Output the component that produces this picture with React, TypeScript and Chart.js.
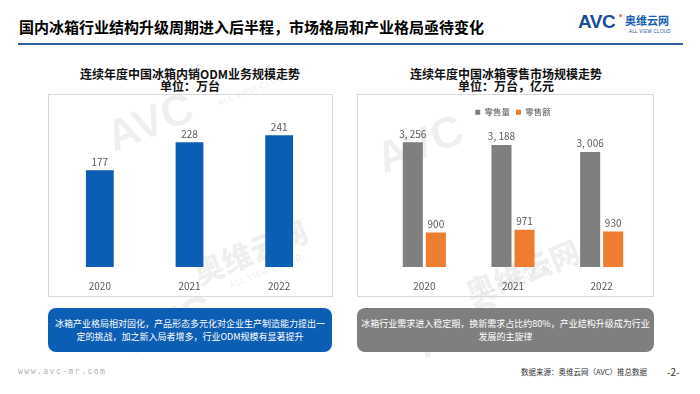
import React, { useEffect, useRef } from "react";
import { Chart, registerables } from "chart.js";

Chart.register(...registerables);

// ---- data ----
const years = ["2020", "2021", "2022"];
const odmVolume = [177, 228, 241];
const retailVolume = [3256, 3188, 3006];
const retailValue = [900, 971, 930];
const seriesNames = ["零售量", "零售额"];
const odmMax = 300;
const retailMax = 3670;

const FONT = '"Noto Sans CJK SC", "Noto Sans", sans-serif';
const BLUE = "#0c5db4";
const GRAY = "#7f7f7f";
const ORANGE = "#ed7d31";
const LABEL = "#595959";

function fmt(v: number): string {
  if (v >= 1000) {
    const rest = String(v % 1000).padStart(3, "0");
    return `${Math.floor(v / 1000)}, ${rest}`;
  }
  return String(v);
}

const valueLabels = {
  id: "valueLabels",
  afterDatasetsDraw(chart: any) {
    const ctx = chart.ctx;
    ctx.save();
    ctx.font = `10px ${FONT}`;
    ctx.fillStyle = LABEL;
    ctx.textAlign = "center";
    ctx.textBaseline = "middle";
    chart.data.datasets.forEach((ds: any, i: number) => {
      const meta = chart.getDatasetMeta(i);
      meta.data.forEach((bar: any, j: number) => {
        ctx.fillText(fmt(ds.data[j]), bar.x, bar.y - 8.5);
      });
    });
    ctx.restore();
  },
};

function xScale() {
  return {
    grid: { display: false },
    border: { display: false },
    ticks: { color: LABEL, font: { size: 10, family: FONT }, padding: 5 },
  };
}

function leftConfig(): any {
  return {
    type: "bar",
    data: {
      labels: years,
      datasets: [
        {
          data: odmVolume,
          backgroundColor: BLUE,
          barPercentage: 0.5,
          categoryPercentage: 0.62,
        },
      ],
    },
    options: {
      responsive: false,
      animation: false,
      layout: { padding: { top: 9, left: 7, right: 9, bottom: 0 } },
      plugins: { legend: { display: false }, tooltip: { enabled: false } },
      scales: {
        x: xScale(),
        y: { display: false, min: 0, max: odmMax },
      },
    },
    plugins: [valueLabels],
  };
}

function rightConfig(): any {
  return {
    type: "bar",
    data: {
      labels: years,
      datasets: [
        {
          label: seriesNames[0],
          data: retailVolume,
          backgroundColor: GRAY,
          barPercentage: 0.87,
          categoryPercentage: 0.52,
        },
        {
          label: seriesNames[1],
          data: retailValue,
          backgroundColor: ORANGE,
          barPercentage: 0.87,
          categoryPercentage: 0.52,
        },
      ],
    },
    options: {
      responsive: false,
      animation: false,
      layout: { padding: { top: 8, left: 23, right: 8, bottom: 0 } },
      plugins: {
        tooltip: { enabled: false },
        legend: {
          display: true,
          position: "top",
          labels: {
            boxWidth: 5,
            boxHeight: 5,
            padding: 6,
            color: LABEL,
            font: { size: 8.5, family: FONT },
          },
        },
      },
      scales: {
        x: xScale(),
        y: { display: false, min: 0, max: retailMax },
      },
    },
    plugins: [valueLabels],
  };
}

function ChartBox(props: { left: number; top: number; width: number; height: number; make: () => any }) {
  const ref = useRef<HTMLCanvasElement>(null);
  useEffect(() => {
    const chart = new Chart(ref.current as HTMLCanvasElement, props.make());
    return () => chart.destroy();
  }, []);
  const { left, top, width, height } = props;
  return (
    <>
      <div
        style={{
          position: "absolute",
          left,
          top,
          width,
          height,
          border: "1px solid #d9d9d9",
          boxSizing: "border-box",
        }}
      />
      <canvas
        ref={ref}
        width={width}
        height={height}
        style={{ position: "absolute", left, top, width, height }}
      />
    </>
  );
}

function ChartTitle(props: { center: number; lines: string[] }) {
  return (
    <div
      style={{
        position: "absolute",
        left: props.center - 160,
        width: 320,
        top: 67.5,
        textAlign: "center",
        fontSize: 12,
        lineHeight: "12.5px",
        fontWeight: 700,
        color: "#111",
        whiteSpace: "nowrap",
      }}
    >
      {props.lines[0]}
      <br />
      {props.lines[1]}
    </div>
  );
}

function Caption(props: { left: number; width: number; bg: string; lines: string[] }) {
  return (
    <div
      style={{
        position: "absolute",
        left: props.left,
        top: 308,
        width: props.width,
        height: 44,
        borderRadius: 8,
        background: props.bg,
        color: "#fff",
        fontSize: 9,
        lineHeight: "13px",
        display: "flex",
        alignItems: "center",
        justifyContent: "center",
        textAlign: "center",
        whiteSpace: "nowrap",
      }}
    >
      <div>
        {props.lines[0]}
        <br />
        {props.lines[1]}
      </div>
    </div>
  );
}

function Watermark(props: { left: number; top: number; size: number; text: string; weight?: number }) {
  return (
    <div
      style={{
        position: "absolute",
        left: props.left,
        top: props.top,
        fontSize: props.size,
        lineHeight: 1,
        fontWeight: props.weight ?? 900,
        color: "rgba(0,0,0,0.07)",
        transform: "rotate(-22deg)",
        transformOrigin: "left top",
        whiteSpace: "nowrap",
        fontFamily: '"Liberation Sans", "Noto Sans CJK SC", sans-serif',
      }}
    >
      {props.text}
    </div>
  );
}

export default function App() {
  return (
    <div
      style={{
        position: "absolute",
        left: 0,
        top: 0,
        width: 700,
        height: 394,
        background: "#fff",
        overflow: "hidden",
        fontFamily: FONT,
      }}
    >
      {/* watermarks */}
      <Watermark left={100} top={118} size={44} text="AVC" />
      <Watermark left={216} top={100} size={9} text="ALL VIEW CLOUD" weight={700} />
      <Watermark left={190} top={262} size={30} text="奥维云网" />
      <Watermark left={228} top={282} size={9} text="ALL VIEW CLOUD" weight={700} />
      <Watermark left={120} top={320} size={44} text="AVC" />
      <Watermark left={370} top={140} size={44} text="AVC" />
      <Watermark left={462} top={282} size={30} text="奥维云网" />
      <Watermark left={478} top={290} size={9} text="ALL VIEW CLOUD" weight={700} />
      <Watermark left={410} top={325} size={44} text="AVC" />

      {/* header */}
      <div
        style={{
          position: "absolute",
          left: 19,
          top: 18,
          fontSize: 15,
          lineHeight: "18px",
          fontWeight: 700,
          color: "#000",
          whiteSpace: "nowrap",
        }}
      >
        国内冰箱行业结构升级周期进入后半程，市场格局和产业格局亟待变化
      </div>
      <div
        style={{
          position: "absolute",
          left: 18,
          top: 43,
          width: 665,
          height: 2,
          background: "#2f63a6",
        }}
      />
      {/* logo */}
      <div
        style={{
          position: "absolute",
          left: 578,
          top: 11,
          fontSize: 19,
          lineHeight: "22px",
          fontWeight: 900,
          color: "#1a4d9b",
          letterSpacing: -0.5,
          fontFamily: '"Liberation Sans", Arial, sans-serif',
        }}
      >
        AVC
      </div>
      <div
        style={{
          position: "absolute",
          left: 619,
          top: 14,
          width: 3,
          height: 3,
          borderRadius: 2,
          background: "#ed7d31",
        }}
      />
      <div
        style={{
          position: "absolute",
          left: 625,
          top: 14,
          fontSize: 11,
          lineHeight: "13px",
          fontWeight: 700,
          color: "#1a5fb4",
          whiteSpace: "nowrap",
        }}
      >
        奥维云网
      </div>
      <div
        style={{
          position: "absolute",
          left: 629,
          top: 29,
          fontSize: 4.5,
          lineHeight: "5px",
          color: "#1a4d9b",
          letterSpacing: 0.3,
          whiteSpace: "nowrap",
          fontFamily: '"Liberation Sans", Arial, sans-serif',
        }}
      >
        ALL VIEW CLOUD
      </div>

      {/* charts */}
      <ChartTitle center={190} lines={["连续年度中国冰箱内销ODM业务规模走势", "单位：万台"]} />
      <ChartTitle center={506} lines={["连续年度中国冰箱零售市场规模走势", "单位：万台，亿元"]} />
      <ChartBox left={48} top={94} width={285} height={203} make={leftConfig} />
      <ChartBox left={357} top={94} width={297} height={203} make={rightConfig} />

      {/* captions */}
      <Caption
        left={48}
        width={284}
        bg={BLUE}
        lines={[
          "冰箱产业格局相对固化，产品形态多元化对企业生产制造能力提出一",
          "定的挑战，加之新入局者增多，行业ODM规模有显著提升",
        ]}
      />
      <Caption
        left={357}
        width={297}
        bg={GRAY}
        lines={[
          "冰箱行业需求进入稳定期，换新需求占比约80%，产业结构升级成为行业",
          "发展的主旋律",
        ]}
      />

      {/* footer */}
      <div
        style={{
          position: "absolute",
          left: 18,
          top: 366,
          fontSize: 8,
          lineHeight: "12px",
          color: "#b0b0b0",
          letterSpacing: 1.5,
          fontFamily: '"DejaVu Sans Mono", monospace',
          whiteSpace: "nowrap",
        }}
      >
        www.avc-mr.com
      </div>
      <div
        style={{
          position: "absolute",
          right: 53,
          top: 366,
          fontSize: 7.5,
          lineHeight: "12px",
          color: "#333",
          whiteSpace: "nowrap",
        }}
      >
        数据来源：奥维云网（AVC）推总数据
      </div>
      <div
        style={{
          position: "absolute",
          left: 667,
          top: 365,
          fontSize: 10,
          lineHeight: "13px",
          color: "#333",
          whiteSpace: "nowrap",
        }}
      >
        -2-
      </div>
    </div>
  );
}
